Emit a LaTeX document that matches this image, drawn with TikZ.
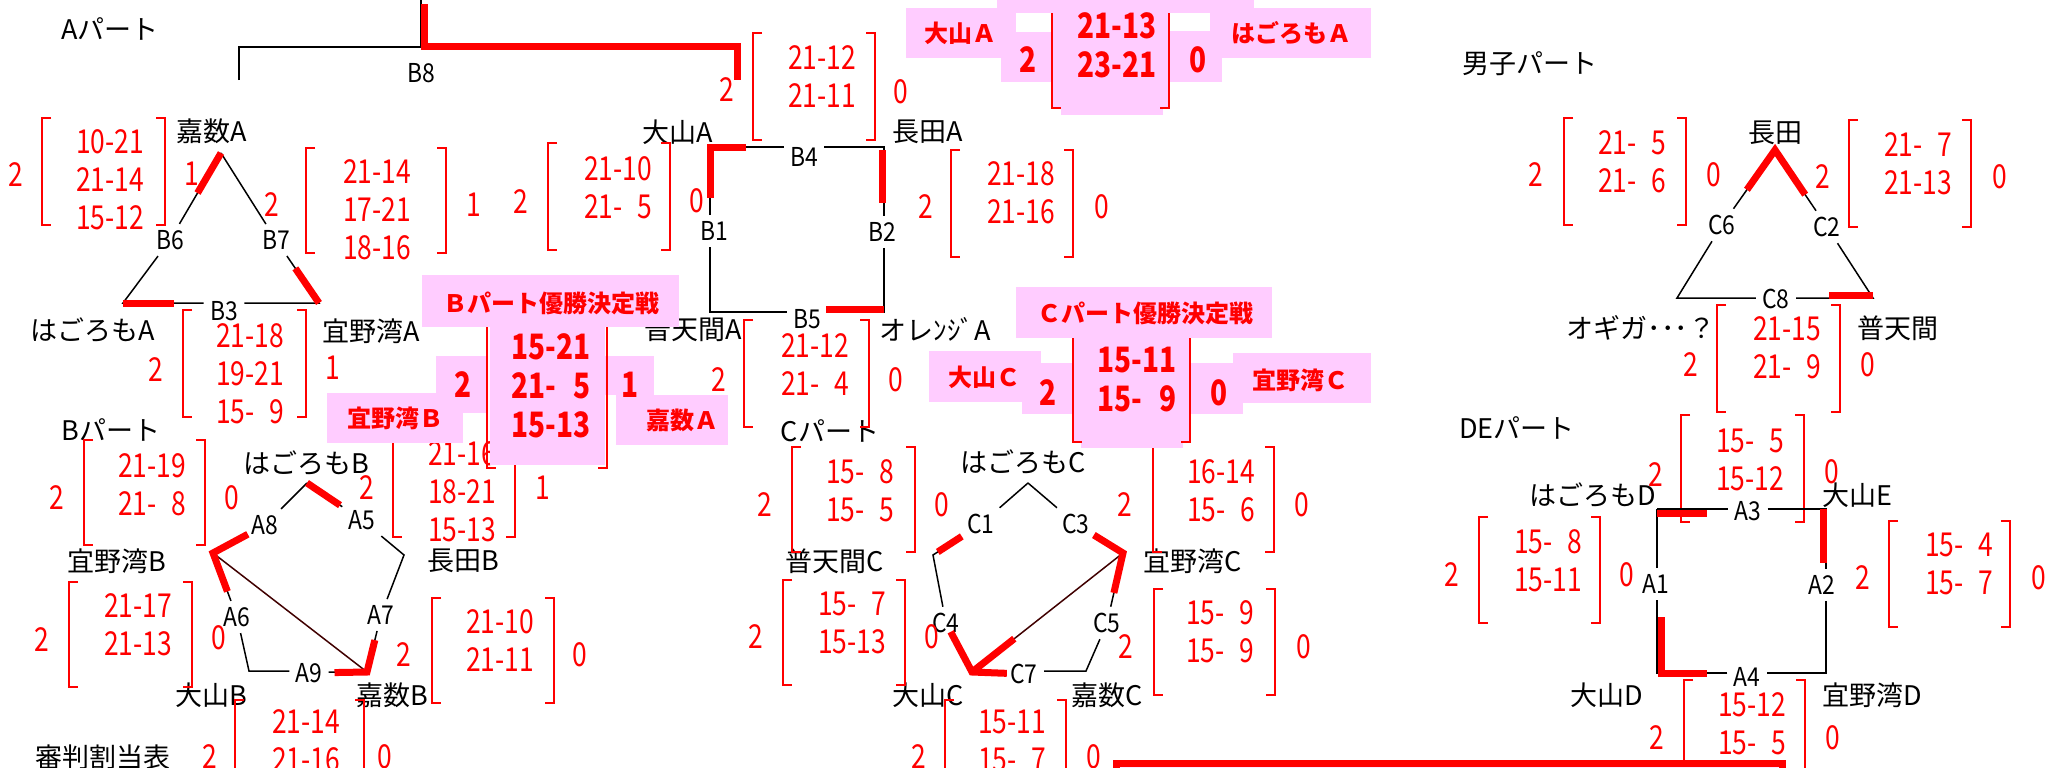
\documentclass[tikz,border=0pt]{standalone}
\usepackage{fontspec}
\setmainfont{Noto Sans CJK JP}
\newfontfamily\narrowfont{Noto Sans CJK JP}[FakeStretch=0.88]
\newfontfamily\scorefont{Noto Sans CJK JP}[FakeStretch=0.8]
\usetikzlibrary{calc}
\definecolor{cellpink}{RGB}{255,204,255}
\definecolor{darkline}{RGB}{64,0,0}

\begin{document}
\begin{tikzpicture}[x=0.5pt, y=-0.5pt, line join=miter,
	team/.style = {inner sep=0pt, font=\fontsize{13.5}{15}\selectfont},
	code/.style = {inner sep=3pt, font=\narrowfont\fontsize{13}{15}\selectfont},
	score/.style = {inner sep=0pt, text=red, align=center, font=\scorefont\fontsize{16.5}{19}\selectfont},
	fscore/.style = {score, font=\scorefont\bfseries\fontsize{17.5}{19.5}\selectfont},
	fteam/.style = {inner sep=0pt, text=red, font=\bfseries\fontsize{12}{14}\selectfont},
	cell/.style = {fill=cellpink, draw=none},
	edge/.style = {draw, line width=0.75pt},
	diag/.style = {draw=darkline, line width=0.75pt},
	win/.style = {draw=red, line width=3.5pt},
	brk/.style = {draw=red, line width=0.9pt}]
\clip (0,0) rectangle (2063,767);

% titles
\node[team] (partA) at (110,29) {Aパート};
\node[team] (partM) at (1530,64) {男子パート};
\node[team] (partB) at (111,430) {Bパート};
\node[team] (partC) at (830,431) {Cパート};
\node[team] (partDE) at (1517,428) {DEパート};
\node[team] (referee) at (103,757) {審判割当表};

% teams
\node[team] (kakazuA) at (212,131) {嘉数A};
\node[team] (oyamaA) at (678,132) {大山A};
\node[team] (nagataA) at (928,132) {長田A};
\node[team] (hagoromoA) at (93,330) {はごろもA};
\node[team] (ginowanA) at (371,331) {宜野湾A};
\node[team] (futenmaA) at (693,329) {普天間A};
\node[team] (orangeA) at (935,329) {オレﾝｼﾞA};
\node[team] (nagata) at (1775,133) {長田};
\node[team] (ogiga) at (1641,328) {オギガ･･･？};
\node[team] (futenma) at (1898,328) {普天間};
\node[team] (hagoromoB) at (306,463) {はごろもB};
\node[team] (ginowanB) at (117,561) {宜野湾B};
\node[team] (nagataB) at (463,561) {長田B};
\node[team] (oyamaB) at (211,695) {大山B};
\node[team] (kakazuB) at (392,695) {嘉数B};
\node[team] (hagoromoC) at (1023,462) {はごろもC};
\node[team] (futenmaC) at (835,561) {普天間C};
\node[team] (ginowanC) at (1193,561) {宜野湾C};
\node[team] (oyamaC) at (928,695) {大山C};
\node[team] (kakazuC) at (1107,695) {嘉数C};
\node[team] (hagoromoD) at (1593,495) {はごろもD};
\node[team] (oyamaE) at (1857,495) {大山E};
\node[team] (oyamaD) at (1607,695) {大山D};
\node[team] (ginowanD) at (1872,695) {宜野湾D};

% match codes
\node[code] (B8) at (421,73) {B8};
\node[code] (B6) at (170,240) {B6};
\node[code] (B7) at (276,240) {B7};
\node[code] (B3) at (224,311) {B3};
\node[code] (B4) at (804,157) {B4};
\node[code] (B1) at (714,231) {B1};
\node[code] (B2) at (882,232) {B2};
\node[code] (B5) at (807,319) {B5};
\node[code] (C6) at (1722,225) {C6};
\node[code] (C2) at (1827,227) {C2};
\node[code] (C8) at (1776,299) {C8};
\node[code] (A8) at (265,525) {A8};
\node[code] (A5) at (362,520) {A5};
\node[code] (A6) at (237,617) {A6};
\node[code] (A7) at (381,615) {A7};
\node[code] (A9) at (309,673) {A9};
\node[code] (C1) at (981,524) {C1};
\node[code] (C3) at (1076,524) {C3};
\node[code] (C4) at (946,623) {C4};
\node[code] (C5) at (1107,623) {C5};
\node[code] (C7) at (1024,674) {C7};
\node[code] (A3) at (1748,511) {A3};
\node[code] (A1) at (1656,584) {A1};
\node[code] (A2) at (1822,585) {A2};
\node[code] (A4) at (1747,677) {A4};

% scores
\node[score] (s1) at (110,180) {10-21\\21-14\\15-12};
\node[score] (p1l) at (16,175) {2};
\node[score] (p1r) at (192,174) {1};
\draw[brk] (51,118) -| (42,225) -- ++(9,0) (156,118) -| (165,225) -- ++(-9,0);
\node[score] (s2) at (377,210) {21-14\\17-21\\18-16};
\node[score] (p2l) at (272,205) {2};
\node[score] (p2r) at (474,205) {1};
\draw[brk] (315,148) -| (306,253) -- ++(9,0) (437,148) -| (446,253) -- ++(-9,0);
\node[score] (s3) at (618,188) {21-10\\21-\phantom{1}5};
\node[score] (p3l) at (521,202) {2};
\node[score] (p3r) at (697,201) {0};
\draw[brk] (557,143) -| (548,250) -- ++(9,0) (661,143) -| (670,250) -- ++(-9,0);
\node[score] (s4) at (822,77) {21-12\\21-11};
\node[score] (p4l) at (727,90) {2};
\node[score] (p4r) at (901,92) {0};
\draw[brk] (762,33) -| (753,140) -- ++(9,0) (866,33) -| (875,140) -- ++(-9,0);
\node[score] (s5) at (1021,193) {21-18\\21-16};
\node[score] (p5l) at (926,207) {2};
\node[score] (p5r) at (1102,207) {0};
\draw[brk] (960,150) -| (951,257) -- ++(9,0) (1064,150) -| (1073,257) -- ++(-9,0);
\node[score] (s6) at (1632,162) {21-\phantom{1}5\\21-\phantom{1}6};
\node[score] (p6l) at (1536,175) {2};
\node[score] (p6r) at (1714,175) {0};
\draw[brk] (1573,118) -| (1564,225) -- ++(9,0) (1677,118) -| (1686,225) -- ++(-9,0);
\node[score] (s7) at (1918,164) {21-\phantom{1}7\\21-13};
\node[score] (p7l) at (1823,177) {2};
\node[score] (p7r) at (2000,177) {0};
\draw[brk] (1858,120) -| (1849,227) -- ++(9,0) (1962,120) -| (1971,227) -- ++(-9,0);
\node[score] (s8) at (250,374) {21-18\\19-21\\15-\phantom{1}9};
\node[score] (p8l) at (156,370) {2};
\node[score] (p8r) at (333,368) {1};
\draw[brk] (192,310) -| (183,417) -- ++(9,0) (297,310) -| (306,417) -- ++(-9,0);
\node[score] (s9) at (815,365) {21-12\\21-\phantom{1}4};
\node[score] (p9l) at (719,380) {2};
\node[score] (p9r) at (896,380) {0};
\draw[brk] (753,320) -| (744,427) -- ++(9,0) (860,320) -| (869,427) -- ++(-9,0);
\node[score] (s10) at (1787,348) {21-15\\21-\phantom{1}9};
\node[score] (p10l) at (1691,365) {2};
\node[score] (p10r) at (1868,365) {0};
\draw[brk] (1726,305) -| (1717,412) -- ++(9,0) (1831,305) -| (1840,412) -- ++(-9,0);
\node[score] (s11) at (152,485) {21-19\\21-\phantom{1}8};
\node[score] (p11l) at (57,498) {2};
\node[score] (p11r) at (232,498) {0};
\draw[brk] (93,440) -| (84,545) -- ++(9,0) (196,440) -| (205,545) -- ++(-9,0);
\node[score] (s12) at (462,492) {21-16\\18-21\\15-13};
\node[score] (p12l) at (367,488) {2};
\node[score] (p12r) at (543,488) {1};
\draw[brk] (402,430) -| (393,537) -- ++(9,0) (506,430) -| (515,537) -- ++(-9,0);
\node[score] (s13) at (860,491) {15-\phantom{1}8\\15-\phantom{1}5};
\node[score] (p13l) at (765,505) {2};
\node[score] (p13r) at (942,505) {0};
\draw[brk] (801,447) -| (792,552) -- ++(9,0) (906,447) -| (915,552) -- ++(-9,0);
\node[score] (s14) at (1221,491) {16-14\\15-\phantom{1}6};
\node[score] (p14l) at (1125,505) {2};
\node[score] (p14r) at (1302,505) {0};
\draw[brk] (1162,447) -| (1153,552) -- ++(9,0) (1265,447) -| (1274,552) -- ++(-9,0);
\node[score] (s15) at (1750,460) {15-\phantom{1}5\\15-12};
\node[score] (p15l) at (1656,475) {2};
\node[score] (p15r) at (1832,472) {0};
\draw[brk] (1690,415) -| (1681,522) -- ++(9,0) (1795,415) -| (1804,522) -- ++(-9,0);
\node[score] (s16) at (138,625) {21-17\\21-13};
\node[score] (p16l) at (42,640) {2};
\node[score] (p16r) at (219,638) {0};
\draw[brk] (78,582) -| (69,687) -- ++(9,0) (183,582) -| (192,687) -- ++(-9,0);
\node[score] (s17) at (500,641) {21-10\\21-11};
\node[score] (p17l) at (404,655) {2};
\node[score] (p17r) at (580,655) {0};
\draw[brk] (441,598) -| (432,703) -- ++(9,0) (545,598) -| (554,703) -- ++(-9,0);
\node[score] (s18) at (852,623) {15-\phantom{1}7\\15-13};
\node[score] (p18l) at (756,637) {2};
\node[score] (p18r) at (932,637) {0};
\draw[brk] (792,580) -| (783,685) -- ++(9,0) (896,580) -| (905,685) -- ++(-9,0);
\node[score] (s19) at (1220,632) {15-\phantom{1}9\\15-\phantom{1}9};
\node[score] (p19l) at (1126,647) {2};
\node[score] (p19r) at (1304,647) {0};
\draw[brk] (1163,589) -| (1154,695) -- ++(9,0) (1266,589) -| (1275,695) -- ++(-9,0);
\node[score] (s20) at (1548,561) {15-\phantom{1}8\\15-11};
\node[score] (p20l) at (1452,575) {2};
\node[score] (p20r) at (1627,575) {0};
\draw[brk] (1488,517) -| (1479,623) -- ++(9,0) (1591,517) -| (1600,623) -- ++(-9,0);
\node[score] (s21) at (1959,564) {15-\phantom{1}4\\15-\phantom{1}7};
\node[score] (p21l) at (1863,578) {2};
\node[score] (p21r) at (2039,578) {0};
\draw[brk] (1898,521) -| (1889,627) -- ++(9,0) (2001,521) -| (2010,627) -- ++(-9,0);
\node[score] (s22) at (306,741) {21-14\\21-16};
\node[score] (p22l) at (210,757) {2};
\node[score] (p22r) at (385,757) {0};
\draw[brk] (244,700) -| (235,805) -- ++(9,0) (355,700) -| (364,805) -- ++(-9,0);
\node[score] (s23) at (1012,741) {15-11\\15-\phantom{1}7};
\node[score] (p23l) at (919,757) {2};
\node[score] (p23r) at (1094,757) {0};
\draw[brk] (954,700) -| (945,805) -- ++(9,0) (1057,700) -| (1066,805) -- ++(-9,0);
\node[score] (s24) at (1752,724) {15-12\\15-\phantom{1}5};
\node[score] (p24l) at (1657,738) {2};
\node[score] (p24r) at (1833,738) {0};
\draw[brk] (1693,680) -| (1684,785) -- ++(9,0) (1796,680) -| (1805,785) -- ++(-9,0);

% B8 bracket
\coordinate (b8l) at (239,80);
\coordinate (b8j) at (421,47);
\coordinate (b8r) at (740,80);
\coordinate (b8up) at (421,0);
\draw[edge] (b8l) |- (b8j) -| (b8r);
\draw[edge] (b8j) -- (b8up);
\draw[win] ($(b8up)+(3,4)$) -- ($(b8j)+(3,-1)$) -| ($(b8r)+(-3,0)$);

% triangle B6 B7 B3
\coordinate (tBa) at (221,153);
\coordinate (tBl) at (123,303);
\coordinate (tBr) at (319,303);
\draw[edge] (tBa) -- (B6) -- (tBl) -- (B3.west |- tBl);
\draw[edge] (B3.east |- tBr) -- (tBr) -- (B7) -- (tBa);
\draw[win] (tBa) -- ($(tBa)!0.46!(B6)$);
\draw[win] (tBl) -- ++(51,0);
\draw[win] ($(tBr)!0.55!(B7)$) -- (tBr);

% square B4 B2 B5 B1
\coordinate (sBtl) at (710,147);
\coordinate (sBtr) at (884,147);
\coordinate (sBbl) at (710,312);
\coordinate (sBbr) at (884,312);
\draw[edge] (sBtl) -- (B4.west |- sBtl);
\draw[edge] (B4.east |- sBtr) -- (sBtr) -- (B2.north -| sBtr);
\draw[edge] (B2.south -| sBbr) -- (sBbr) -- (B5.east |- sBbr);
\draw[edge] (B5.west |- sBbl) -- (sBbl) -- (B1.south -| sBbl);
\draw[edge] (B1.north -| sBtl) -- (sBtl);
\draw[win] ($(sBtl)+(36,0)$) -- (sBtl) -- ++(0,51);
\draw[win] ($(sBtr)+(-2,3)$) -- ++(0,53);
\draw[win] ($(sBbr)+(0,-3)$) -- ++(-58,0);

% triangle C6 C2 C8
\coordinate (tCa) at (1775,150);
\coordinate (tCl) at (1677,298);
\coordinate (tCr) at (1873,298);
\draw[edge] (tCa) -- (C6) -- (tCl) -- (C8.west |- tCl);
\draw[edge] (C8.east |- tCr) -- (tCr) -- (C2) -- (tCa);
\draw[win] ($(tCa)!0.53!(C6)$) -- (tCa) -- ($(tCa)!0.58!(C2)$);
\draw[win] ($(tCr)+(0,-3)$) -- ++(-44,0);

% pentagon A5..A9
\coordinate (pAt) at (307,483);
\coordinate (pAul) at (213,553);
\coordinate (pAur) at (404,555);
\coordinate (pAll) at (249,671);
\coordinate (pAlr) at (367,672);
\draw[edge] (pAt) -- (A8) -- (pAul) -- (A6) -- (pAll) -- (A9.west |- pAll);
\draw[edge] (A9.east |- pAlr) -- (pAlr) -- (A7) -- (pAur) -- (A5) -- (pAt);
\draw[diag] (pAul) -- (pAlr);
\draw[win] (pAt) -- ($(pAt)!0.6!(A5)$);
\draw[win] ($(pAul)!0.67!(A8)$) -- (pAul) -- ($(pAul)!0.6!(A6)$);
\draw[win] ($(pAlr)!0.56!(A9)$) -- (pAlr) -- ($(pAlr)!0.56!(A7)$);

% pentagon C1..C7
\coordinate (pCt) at (1028,483);
\coordinate (pCul) at (933,555);
\coordinate (pCur) at (1123,553);
\coordinate (pCll) at (972,672);
\coordinate (pClr) at (1086,671);
\draw[edge] (pCt) -- (C1) -- (pCul) -- (C4) -- (pCll) -- (C7.west |- pCll);
\draw[edge] (C7.east |- pClr) -- (pClr) -- (C5) -- (pCur) -- (C3) -- (pCt);
\draw[diag] (pCur) -- (pCll);
\draw[win] ($(pCul)!0.1!(C1)$) -- ($(pCul)!0.6!(C1)$);
\draw[win] ($(pCur)!0.62!(C3)$) -- (pCur) -- ($(pCur)!0.57!(C5)$);
\draw[win] ($(pCll)!0.82!(C4)$) -- (pCll) -- ($(pCll)!0.67!(C7)$);
\draw[win] (pCll) -- ($(pCll)!0.28!(pCur)$);

% square A3 A2 A4 A1
\coordinate (sAtl) at (1657,509);
\coordinate (sAtr) at (1826,509);
\coordinate (sAbl) at (1657,673);
\coordinate (sAbr) at (1826,673);
\draw[edge] (sAtl) -- (A3.west |- sAtl);
\draw[edge] (A3.east |- sAtr) -- (sAtr) -- (A2.north -| sAtr);
\draw[edge] (A2.south -| sAbr) -- (sAbr) -- (A4.east |- sAbr);
\draw[edge] (A4.west |- sAbl) -- (sAbl) -- (A1.south -| sAbl);
\draw[edge] (A1.north -| sAtl) -- (sAtl);
\draw[win] ($(sAtl)+(0,4)$) -- ++(50,0);
\draw[win] ($(sAtr)+(-3,0)$) -- ++(0,54);
\draw[win] ($(sAbl)+(4,-56)$) |- ($(sAbl)+(50,0)$);

% A final
\path[cell] (906,8) rectangle (1016,58);
\path[cell] (1001,32) rectangle (1052,82);
\path[cell] (1052,13) rectangle (1170,108);
\path[cell] (1061,108) rectangle (1163,115);
\path[cell] (1170,31) rectangle (1222,82);
\path[cell] (1210,8) rectangle (1371,58);
\draw[brk] (1052,5) -- (1052,108) -- ++(9,0) (1169,5) -- (1169,108) -- ++(-9,0);
\path[cell] (997,0) rectangle (1254,13);
\node[fscore] (fA) at (1117,45) {21-13\\23-21};
\node[fscore] (fAl) at (1028,60) {2};
\node[fscore] (fAr) at (1198,60) {0};
\node[fteam] (fAoyama) at (960,33) {大山Ａ};
\node[fteam] (fAhagoromo) at (1291,33) {はごろもＡ};

% B final
\path[cell] (490,327) rectangle (605,465);
\path[cell] (436,356) rectangle (487,413);
\path[cell] (605,356) rectangle (654,395);
\path[cell] (327,393) rectangle (463,443);
\path[cell] (616,395) rectangle (728,445);
\draw[brk] (487,320) -- (487,468) -- ++(9,0) (607,320) -- (607,468) -- ++(-9,0);
\path[cell] (422,275) rectangle (679,327);
\node[fteam] (fBtitle) at (551,303) {Ｂパート優勝決定戦};
\node[fscore] (fB) at (551,386) {15-21\\21-\phantom{1}5\\15-13};
\node[fscore] (fBl) at (463,385) {2};
\node[fscore] (fBr) at (630,385) {1};
\node[fteam] (fBginowan) at (395,418) {宜野湾Ｂ};
\node[fteam] (fBkakazu) at (682,420) {嘉数Ａ};

% C final
\path[cell] (929,351) rectangle (1041,402);
\path[cell] (1022,363) rectangle (1073,414);
\path[cell] (1073,338) rectangle (1190,442);
\path[cell] (1081,442) rectangle (1183,448);
\path[cell] (1190,363) rectangle (1243,414);
\path[cell] (1233,353) rectangle (1371,403);
\draw[brk] (1073,330) -- (1073,442) -- ++(9,0) (1190,330) -- (1190,442) -- ++(-9,0);
\path[cell] (1016,287) rectangle (1272,338);
\node[fteam] (fCtitle) at (1145,313) {Ｃパート優勝決定戦};
\node[fscore] (fC) at (1137,380) {15-11\\15-\phantom{1}9};
\node[fscore] (fCl) at (1048,393) {2};
\node[fscore] (fCr) at (1219,393) {0};
\node[fteam] (fCoyama) at (984,377) {大山Ｃ};
\node[fteam] (fCginowan) at (1300,380) {宜野湾Ｃ};

% referee table box
\draw[win, fill=cellpink!50] (1116,763) rectangle (1782,830);
\end{tikzpicture}
\end{document}
